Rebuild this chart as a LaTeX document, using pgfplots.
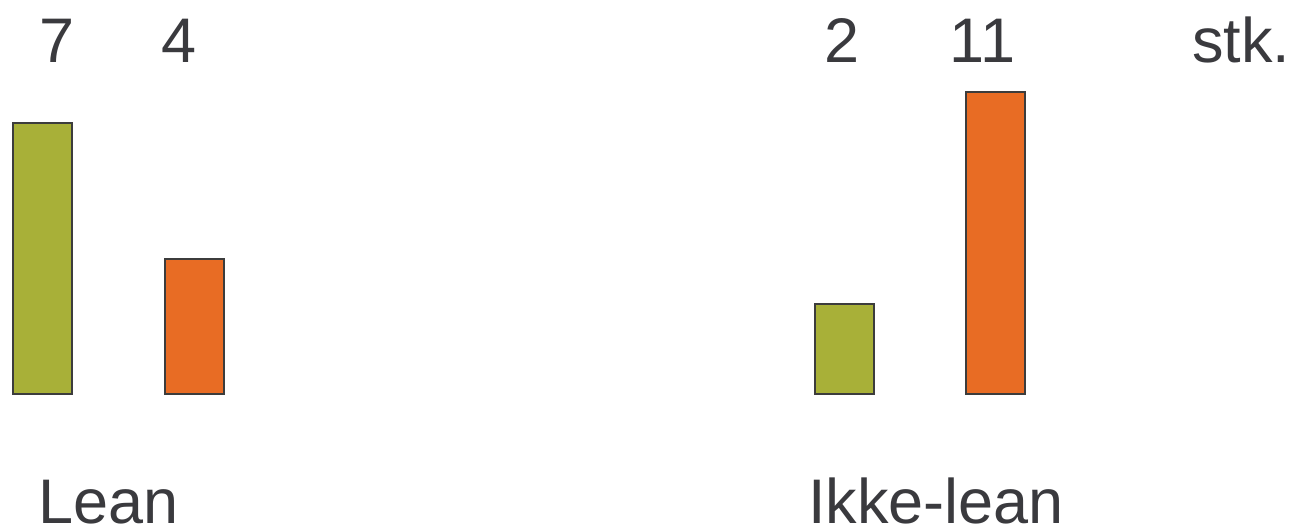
\documentclass[border=0pt]{standalone}
\usepackage{pgfplots}
\pgfplotsset{compat=1.18}
\usepackage{fontspec}
\setmainfont{Liberation Sans}
\definecolor{leangreen}{HTML}{A8B038}
\definecolor{leanorange}{HTML}{E86C24}
\definecolor{txt}{HTML}{3A3A3E}
\definecolor{edge}{HTML}{3C3C3C}
\tikzset{lbl/.style={font=\fontsize{63}{76}\selectfont, text=txt, inner sep=0pt}}
\begin{document}
\begin{tikzpicture}
\begin{axis}[
  scale only axis, width=1294pt, height=528pt,
  xmin=0, xmax=1294, ymin=-134, ymax=394,
  axis lines=none, ticks=none, clip=false,
]
\path (rel axis cs:0,0) rectangle (rel axis cs:1,1);
% green: lean / ikke-lean
\addplot[ybar, bar shift=0pt, bar width=59, fill=leangreen, draw=edge, line width=2pt]
  coordinates {(42.5,271) (844.5,90)};
% orange
\addplot[ybar, bar shift=0pt, bar width=59, fill=leanorange, draw=edge, line width=2pt]
  coordinates {(194,135) (995,302)};
\node[lbl, anchor=base] at (axis cs:57,331) {7};
\node[lbl, anchor=base] at (axis cs:179.5,331) {4};
\node[lbl, anchor=base] at (axis cs:842.5,331) {2};
\node[lbl, anchor=base] at (axis cs:982.5,331) {11};
\node[lbl, anchor=base west] at (axis cs:1192,331) {stk.};
\node[lbl, anchor=base west] at (axis cs:38,-129) {Lean};
\node[lbl, anchor=base west] at (axis cs:808,-129) {Ikke-lean};
\end{axis}
\end{tikzpicture}
\end{document}
